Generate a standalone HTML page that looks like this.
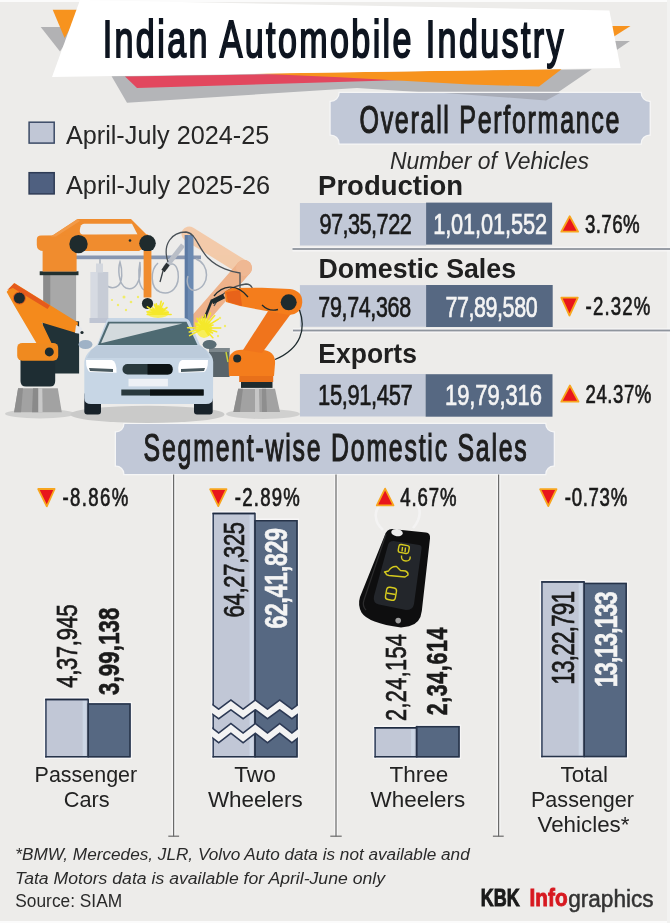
<!DOCTYPE html>
<html><head><meta charset="utf-8"><title>Indian Automobile Industry</title>
<style>
html,body{margin:0;padding:0;background:#edecea;}
svg{display:block;font-family:"Liberation Sans", Arial, sans-serif;}
</style></head><body>
<svg width="670" height="923" viewBox="0 0 670 923">
<!-- background -->
<rect x="0" y="0" width="670" height="923" fill="#edecea"/>
<rect x="0" y="0" width="670" height="2" fill="#fbfbfb"/>
<rect x="0" y="921" width="670" height="2" fill="#fbfbfb"/>
<rect x="667" y="0" width="3" height="923" fill="#f2f2f1"/>
<!-- title banner -->
<polygon points="40.7,26.9 76,26.9 60,51.5" fill="#b2b2b4"/>
<polygon points="52.7,9.7 81,9.7 64.6,38" fill="#f7931e"/>
<polygon points="604,26 630.5,26 614,36.5" fill="#f7931e"/>
<polygon points="606,41 630,41 616,50.5" fill="#b2b2b4"/>
<polygon points="111.6,76.3 591.8,69.3 546,100.4 357,88 127,102.7" fill="#b4b5b8"/>
<polygon points="125,76.6 430,71.8 430,79.2 137,88" fill="#e2475e"/>
<polygon points="255,73.4 561.5,69.3 539,86.5 470,84.5 340,77.3" fill="#f7931e"/>
<polygon points="80,0 609.4,10.4 620.6,68 52,77" fill="#ffffff"/>
<!-- Overall performance box -->
<path d="M339.7 93 L640.6 93 A9 9 0 0 0 649.6 102 L649.6 134.4 A9 9 0 0 0 640.6 143.4 L339.7 143.4 A9 9 0 0 0 330.7 134.4 L330.7 102 A9 9 0 0 0 339.7 93 Z" fill="#c1c8d7" stroke="#f6f6f6" stroke-width="2.5" paint-order="stroke"/>
<!-- gray shadow overlapping box -->
<polygon points="444,92.9 546,100.4 560,92.9" fill="#a9adb8"/>
<!-- legend -->
<rect x="29.1" y="122.2" width="25.1" height="20.9" fill="#c1c7d6" stroke="#3b4a66" stroke-width="1.5"/>
<rect x="29.1" y="172.7" width="25.1" height="21.2" fill="#4f6080" stroke="#2e3b55" stroke-width="1.5"/>
<!-- data rows -->
<rect x="299.9" y="203" width="126.2" height="42.5" fill="#c1c8d7"/>
<rect x="426.1" y="202.6" width="126" height="42" fill="#566882"/>
<rect x="299.9" y="285.1" width="126.2" height="41.7" fill="#c1c8d7"/>
<rect x="426.1" y="285" width="126.6" height="42" fill="#566882"/>
<rect x="299.9" y="374" width="125.7" height="42.5" fill="#c1c8d7"/>
<rect x="425.6" y="374.2" width="126.9" height="42.5" fill="#566882"/>
<!-- separators -->
<rect x="292.5" y="246.6" width="377.5" height="5" fill="#f6f6f6" opacity="0.8"/>
<rect x="292.5" y="248.1" width="377.5" height="1.8" fill="#8f959e"/>
<rect x="293" y="328.1" width="377" height="5" fill="#f6f6f6" opacity="0.8"/>
<rect x="293" y="329.6" width="377" height="1.8" fill="#8f959e"/>
<!-- key fob -->
<path d="M383 530 C372 520 374 506 386 502 M412 501 C422 505 422 518 413 528" fill="none" stroke="#f4f4f4" stroke-width="2.6" opacity="0.9"/>
<path d="M392 529 L426 532.5 Q430.5 533 430 538.5 L421.8 611 Q420.5 623.5 409 626.3 L401 627.5 Q368 623 361.5 612.5 Q357.5 605 360 597 L384.5 536 Q386.5 529 392 529 Z" fill="#0e0e0f"/>
<path d="M386 534 Q384 540 380 552 L364 600 Q362 606 366 610" fill="none" stroke="#3a3a3c" stroke-width="1.2" opacity="0.7"/>
<path d="M393.5 541 L419.5 545 Q422 545.5 421.5 549 L414 604 Q413 610 406 610 L379 604.5 Q372.5 603 374 596 L388 545 Q389 541 393.5 541 Z" fill="#23262b"/>
<ellipse cx="397" cy="532.6" rx="5.8" ry="3.6" fill="#ececec" transform="rotate(8 397 532.6)"/>
<circle cx="398.2" cy="620.6" r="2.8" fill="#a0a0a0"/>
<g fill="none" stroke="#d6cb1e" stroke-width="1.4" stroke-linejoin="round">
<rect x="398.5" y="545" width="10.5" height="8" rx="2.2" transform="rotate(10 403.7 549)"/>
<line x1="402.5" y1="547" x2="402" y2="551.5"/><line x1="405.5" y1="547.5" x2="405" y2="552"/>
<path d="M401.5 555.5 q-0.5 5.5 4.5 5.5 q4.5 0 4.2 -4.5"/>
<path d="M384.5 572 l4 -1 q3 -5 8 -4.5 l4 4 l5 0.5 q3 1.5 2.5 4 l-3 2 l-16 -1.5 q-3 -0.5 -3 -2 z"/>
<rect x="386" y="587.5" width="10" height="12.5" rx="3" transform="rotate(10 391 593.7)"/>
<line x1="386.5" y1="593" x2="395.5" y2="594.5"/>
</g>
<!-- triangles rows -->
<g fill="#e8151c" stroke="#f7a51e" stroke-width="1.8" stroke-linejoin="round">
<polygon points="569.7,216.2 578.1,231.7 561.3,231.7"/>
<polygon points="561.3,297.7 577.8,297.7 569.5,315.5"/>
<polygon points="569.9,385.5 578.5,401.7 561.3,401.7"/>
<polygon points="38.2,489 54.6,489 46.8,506.3"/>
<polygon points="210.1,489.2 226.5,489.2 218.3,506.1"/>
<polygon points="385.1,488.6 393.5,505.4 376.8,505.4"/>
<polygon points="540.1,489.2 556.5,489.2 548.3,506"/>
</g>
<!-- segment box -->
<path d="M124.5 424 L545.2 424 A8.5 8.5 0 0 0 553.7 432.5 L553.7 465.6 A8.5 8.5 0 0 0 545.2 474.1 L124.5 474.1 A8.5 8.5 0 0 0 116 465.6 L116 432.5 A8.5 8.5 0 0 0 124.5 424 Z" fill="#c1c8d7" stroke="#f6f6f6" stroke-width="2.5" paint-order="stroke"/>
<!-- dividers -->
<g stroke="#f7f7f7" stroke-width="4" opacity="0.9">
<line x1="173.6" y1="475.5" x2="173.6" y2="836"/>
<line x1="336" y1="475.5" x2="336" y2="836"/>
<line x1="498.6" y1="475.5" x2="498.6" y2="836"/>
</g>
<g stroke="#6a6a6a" stroke-width="1.2">
<line x1="173.6" y1="474.5" x2="173.6" y2="836.5"/>
<line x1="168.3" y1="836.2" x2="179.1" y2="836.2"/>
<line x1="336" y1="474.5" x2="336" y2="836.5"/>
<line x1="330.3" y1="836.2" x2="341.7" y2="836.2"/>
<line x1="498.6" y1="474.5" x2="498.6" y2="836.5"/>
<line x1="492.9" y1="836.2" x2="503.7" y2="836.2"/>
</g>
<!-- bars -->
<path d="M43.7 758.9 L43.7 697.3 L89.7 697.3 L89.7 701.8 L132.2 701.8 L132.2 758.9 Z" fill="#f8f8f8" opacity="0.85"/>
<rect x="45.2" y="698.8" width="43.0" height="58.60000000000002" fill="#c1c7d6"/>
<rect x="82.7" y="700.3" width="3.5" height="55.60000000000002" fill="#ccd6e5"/>
<rect x="88.2" y="703.3" width="42.499999999999986" height="54.10000000000002" fill="#566882"/>
<path d="M45.95 757.4 L45.95 699.55 L88.2 699.55" fill="none" stroke="#34425c" stroke-width="1.5"/>
<path d="M45.2 699.5 L88.2 699.5" fill="none" stroke="#1f2b40" stroke-width="1.4"/>
<line x1="88.2" y1="698.8" x2="88.2" y2="757.4" stroke="#263349" stroke-width="1.5"/>
<path d="M88.2 757.4 L88.2 704.05 L129.95 704.05 L129.95 756.65 L45.2 756.65" fill="none" stroke="#263349" stroke-width="1.5"/>
<path d="M211.0 759.0 L211.0 511.29999999999995 L256.5 511.29999999999995 L256.5 518.5 L299.2 518.5 L299.2 759.0 Z" fill="#f8f8f8" opacity="0.85"/>
<rect x="212.5" y="512.8" width="42.5" height="244.70000000000005" fill="#c1c7d6"/>
<rect x="249.5" y="514.3" width="3.5" height="241.70000000000005" fill="#ccd6e5"/>
<rect x="255.0" y="520.0" width="42.69999999999999" height="237.5" fill="#566882"/>
<path d="M213.25 757.5 L213.25 513.55 L255.0 513.55" fill="none" stroke="#34425c" stroke-width="1.5"/>
<path d="M212.5 513.5 L255.0 513.5" fill="none" stroke="#1f2b40" stroke-width="1.4"/>
<line x1="255.0" y1="512.8" x2="255.0" y2="757.5" stroke="#263349" stroke-width="1.5"/>
<path d="M255.0 757.5 L255.0 520.75 L296.95 520.75 L296.95 756.75 L212.5 756.75" fill="none" stroke="#263349" stroke-width="1.5"/>
<path d="M372.9 759.0 L372.9 725.6 L418.1 725.6 L418.1 724.4 L461.2 724.4 L461.2 759.0 Z" fill="#f8f8f8" opacity="0.85"/>
<rect x="374.4" y="727.1" width="42.200000000000045" height="30.399999999999977" fill="#c1c7d6"/>
<rect x="411.1" y="728.6" width="3.5" height="27.399999999999977" fill="#ccd6e5"/>
<rect x="416.6" y="725.9" width="43.099999999999966" height="31.600000000000023" fill="#566882"/>
<path d="M375.15 757.5 L375.15 727.85 L416.6 727.85" fill="none" stroke="#34425c" stroke-width="1.5"/>
<path d="M374.4 727.8000000000001 L416.6 727.8000000000001" fill="none" stroke="#1f2b40" stroke-width="1.4"/>
<line x1="416.6" y1="725.9" x2="416.6" y2="757.5" stroke="#263349" stroke-width="1.5"/>
<path d="M416.6 757.5 L416.6 726.65 L458.95 726.65 L458.95 756.75 L374.4 756.75" fill="none" stroke="#263349" stroke-width="1.5"/>
<path d="M539.7 758.7 L539.7 579.7 L585.7 579.7 L585.7 581.3 L628.4 581.3 L628.4 758.7 Z" fill="#f8f8f8" opacity="0.85"/>
<rect x="541.2" y="581.2" width="43.0" height="176.0" fill="#c1c7d6"/>
<rect x="578.7" y="582.7" width="3.5" height="173.0" fill="#ccd6e5"/>
<rect x="584.2" y="582.8" width="42.69999999999993" height="174.4000000000001" fill="#566882"/>
<path d="M541.95 757.2 L541.95 581.95 L584.2 581.95" fill="none" stroke="#34425c" stroke-width="1.5"/>
<path d="M541.2 581.9000000000001 L584.2 581.9000000000001" fill="none" stroke="#1f2b40" stroke-width="1.4"/>
<line x1="584.2" y1="581.2" x2="584.2" y2="757.2" stroke="#263349" stroke-width="1.5"/>
<path d="M584.2 757.2 L584.2 583.55 L626.15 583.55 L626.15 756.45 L541.2 756.45" fill="none" stroke="#263349" stroke-width="1.5"/>
<!-- zigzag breaks -->
<defs><clipPath id="twclip"><rect x="212.4" y="690" width="85.4" height="60"/></clipPath><clipPath id="twclip2"><rect x="210.6" y="690" width="89.2" height="60"/></clipPath></defs>
<g clip-path="url(#twclip)" fill="none" stroke="#2d3a55" stroke-width="9.3" stroke-linejoin="miter">
<polyline points="206.5,704.9 218.7,714.0 230.9,704.9 243.1,714.0 255.3,704.9 267.5,714.0 279.7,704.9 291.9,714.0 304.1,704.9"/>
<polyline points="206.5,728.4 218.7,737.9 230.9,728.4 243.1,737.9 255.3,728.4 267.5,737.9 279.7,728.4 291.9,737.9 304.1,728.4"/>
</g>
<g clip-path="url(#twclip2)" fill="none" stroke="#f3f3f3" stroke-width="6.2" stroke-linejoin="miter">
<polyline points="206.5,704.9 218.7,714.0 230.9,704.9 243.1,714.0 255.3,704.9 267.5,714.0 279.7,704.9 291.9,714.0 304.1,704.9"/>
<polyline points="206.5,728.4 218.7,737.9 230.9,728.4 243.1,737.9 255.3,728.4 267.5,737.9 279.7,728.4 291.9,737.9 304.1,728.4"/>
</g>

<g id="illus">
<!-- faded back robot (peach) -->
<g opacity="0.9" fill="none" stroke-linecap="round" stroke-linejoin="round">
<path d="M189 234 L244 268" stroke="#f3c7a3" stroke-width="15"/>
<path d="M244 268 L197 322" stroke="#efac80" stroke-width="16"/>
<circle cx="244" cy="268" r="8" fill="#f0b38a" stroke="none"/>
</g>
<!-- rail & post -->
<rect x="56" y="255.5" width="145" height="3.7" fill="#8796b0"/>
<rect x="184.8" y="235" width="8.7" height="100" fill="#6b8ab2"/>
<rect x="184.8" y="235" width="3" height="100" fill="#5c7aa3"/>
<!-- hanging cables -->
<g fill="none" stroke="#aab2be" stroke-width="1.5">
<path d="M100 259 L100 266 M100 270 C100 282 108 290 116 287 C124 284 122 268 120 262 C118 268 118 284 126 288 C134 291 142 284 140 262 C138 272 138 286 144 290"/>
<path d="M158 263 C150 270 150 288 160 292 C172 296 180 286 178 272 C176 262 170 262 166 268"/>
<path d="M196 259 C210 264 210 286 196 290 C188 292 186 282 188 276"/>
</g>
<!-- cylinder -->
<rect x="90.7" y="272" width="17.6" height="47" fill="#c7ccd6"/><rect x="89.5" y="318" width="20" height="5" fill="#bfc5d3"/>
<rect x="90.7" y="272" width="7" height="46" fill="#d6dae2"/>
<rect x="96" y="263.5" width="7" height="9" fill="#d3d7de"/>
<!-- back tool -->
<path d="M165 268 L183 245" stroke="#b9bec7" stroke-width="5" fill="none"/>
<path d="M163 271 L168 264" stroke="#2a3033" stroke-width="4" fill="none"/>
<path d="M163 271 L160 282" stroke="#3b4145" stroke-width="1.3" fill="none"/>
<g fill="none" stroke="#4a5157" stroke-width="1.3">
<path d="M168 262 C162 244 172 232 186 232 C196 233 198 248 208 258 C218 268 232 272 240 273 L240 290"/>
<path d="M214 306 C222 292 232 286 246 284 C252 284 254 290 253 296"/>
</g>
<!-- back-center robot -->
<rect x="43.3" y="275" width="32.8" height="50" fill="#a8a8a8"/>
<rect x="43.3" y="275" width="7" height="50" fill="#8b8b8b"/>
<rect x="39.7" y="271.3" width="38.8" height="3.9" fill="#22302f"/>
<rect x="42.6" y="244" width="34" height="27.5" fill="#f08c2e"/>
<polygon points="51,236.4 77.6,219 131,219 146.5,234.4 150,246 82,246" fill="#f08c2e"/>
<path d="M84 223.7 L132 223.7 L137.5 234.4 L82.5 234.4 Q79.5 234.4 79.8 230 Q80.5 223.7 84 223.7 Z" fill="#edecea"/>
<path d="M41 235.4 L148 234.4 L152 243 L139 251 L44 251 Q36.8 251 36.8 245 L36.8 239.5 Q36.8 235.4 41 235.4 Z" fill="#f08c2e"/>
<polygon points="51,236.4 77.6,219 80,221 56,236.4" fill="#f29a48"/>
<circle cx="78.5" cy="244.1" r="9.2" fill="#1f2b2d"/>
<circle cx="147.5" cy="243.3" r="8.3" fill="#1f2b2d"/>
<circle cx="130" cy="240.5" r="1.3" fill="#1f2b2d"/>
<rect x="143.6" y="251" width="7.8" height="46.5" fill="#f08c2e"/>
<circle cx="147.5" cy="303.5" r="5.6" fill="#1f2b2d"/>
<!-- dark panel behind left robot -->
<rect x="42.5" y="321.3" width="36.6" height="52.2" fill="#213237"/>
<!-- machinery box right -->
<rect x="209" y="348" width="20.5" height="29" fill="#59646a"/>
<rect x="209" y="348" width="20.5" height="4" fill="#7d878c"/>
<path d="M226 352 L228 362" stroke="#c8d23a" stroke-width="1.5"/>
<!-- ground shadows -->
<ellipse cx="40" cy="413.8" rx="35" ry="4.6" fill="#d0d0cf"/>
<ellipse cx="147.5" cy="414.4" rx="77" ry="8.6" fill="#cacac9"/>
<ellipse cx="263" cy="414" rx="37" ry="5" fill="#d0d0cf"/>
<!-- left robot -->
<polygon points="18.1,388.3 57.8,388.3 61.8,412.3 14.1,412.3" fill="#a2a2a2"/>
<polygon points="18.1,388.3 23,388.3 21,412.3 14.1,412.3" fill="#8e8e8e"/>
<polygon points="33,388.3 38.3,388.3 38.3,412.3 32,412.3" fill="#8a8a8a"/>
<polygon points="38.3,388.3 42.3,388.3 42.6,412.3 38.3,412.3" fill="#c9c9c9"/>
<path d="M20.5 360 L55.2 360 L55.2 381 Q55.2 386.5 50 386.5 L26 386.5 Q20.5 386.5 20.5 381 Z" fill="#1e2d33"/>
<rect x="17.2" y="342.9" width="41" height="17.9" rx="5" fill="#f08a1f"/>
<polygon points="7.5,292 14.4,284 77.2,323 75.8,332 40.3,321.3 50.7,343 37.3,343 14.9,305" fill="#f48a1c" stroke="#f48a1c" stroke-width="1.5" stroke-linejoin="round"/>
<polygon points="7.2,290 14.2,283.2 50,305.5 47.5,309 13,288" fill="#e55a1c"/>
<circle cx="19.4" cy="298.1" r="6" fill="#1e2b2e"/>
<circle cx="19.4" cy="298.1" r="6" fill="none" stroke="#e8601d" stroke-width="1"/>
<circle cx="49.3" cy="351.9" r="4.5" fill="#1e2b2e"/>
<polygon points="76,325 82,328 81,334 75,333" fill="#e6e8ec"/><circle cx="82" cy="332.5" r="1.6" fill="#1e2b2e"/>
<!-- right robot -->
<polygon points="238.2,388.7 275,388.7 280,412 233.4,412" fill="#a2a2a2"/>
<polygon points="238.2,388.7 243,388.7 240,412 233.4,412" fill="#8c8c8c"/>
<polygon points="255,388.7 259,388.7 259.5,412 255,412" fill="#c6c6c6"/>
<polygon points="262,388.7 266,388.7 267,412 262,412" fill="#8e8e8e"/>
<rect x="241" y="381.9" width="31.5" height="6" fill="#1e2b2e"/>
<rect x="239.2" y="375.5" width="34" height="6.5" fill="#e8701a"/>
<path d="M228.5 362 Q229 350 242 349.8 L262 349.8 Q276 351 275 364 L274 376 L229 376 Z" fill="#f47d1c"/>
<polygon points="272,305 293,311 262,353 243,350" fill="#f0741c"/>
<path d="M224.6 291.6 L232 288 L262 287.8 L290 289 Q303 291 302.2 303 Q301 314 289 315 L272 312 L240 306 L226 302 Z" fill="#f47d1c"/>
<polygon points="226,292 240,290 242,306 228,302" fill="#e8631a"/>
<circle cx="288.7" cy="302.3" r="8" fill="#1e2b2e"/>
<circle cx="237.2" cy="358.6" r="4" fill="#1e2b2e"/>
<path d="M262 305 Q269 312 278 309.5" fill="none" stroke="#1e2b2e" stroke-width="1.3"/>
<path d="M299.5 310 C306 328 302 348 275 359.5" fill="none" stroke="#1e2b2e" stroke-width="1.3"/>
<path d="M248 297 C236 282 222 286 214 296" fill="none" stroke="#1e2b2e" stroke-width="1.3"/>
<!-- torch -->
<path d="M224 296 L212 302" stroke="#1e2b2e" stroke-width="5"/>
<path d="M212 300 L204 320" stroke="#1e2b2e" stroke-width="2.5"/>
<!-- car -->
<rect x="84.3" y="392" width="16.7" height="22.6" rx="3" fill="#18222a"/>
<rect x="194" y="392" width="18.7" height="22.6" rx="3" fill="#18222a"/>
<path d="M110 318 L183 318 Q188 318 190 322 L200 345 L206 350 Q213 355 213.2 362 L213 398 Q213 404 206 404 L91 404 Q84.3 404 84.3 398 L84.3 362 Q85 355 91 350 L97 345 L106 322 Q107 318 110 318 Z" fill="#c7d6e5"/>
<path d="M108 321.8 L186.5 321.8 L197.5 345 L98 345 Z" fill="#4e6a72"/>
<path d="M109.5 323.6 L182.5 323.6 L101 343.2 Z" fill="#d3dadd"/>
<path d="M91 350 L97 345.4 L200 345.4 L206 350 L210 358 L87 358 Z" fill="#bccbdb"/>
<ellipse cx="85.5" cy="344.5" rx="7" ry="4.5" fill="#9fb2c6"/>
<ellipse cx="209.6" cy="344.5" rx="7" ry="4.5" fill="#5a6d75"/>
<path d="M86 360 L112 360 Q117 362 116.5 372.8 L90 372 Q86 370 86 360 Z" fill="#ffffff"/>
<path d="M89 368 L113 369 L113 372 L90 371 Z" fill="#4a5a60"/>
<path d="M208 360 L182 360 Q177 362 178.6 372.8 L204 372 Q208 370 208 360 Z" fill="#ffffff"/>
<path d="M205 368 L181 369 L181 372 L204 371 Z" fill="#4a5a60"/>
<rect x="122.5" y="364" width="50.1" height="10.5" rx="5" fill="#2a3a3e"/>
<path d="M147.5 364 L167.6 364 Q172.6 364 172.6 369.2 Q172.6 374.5 167.6 374.5 L147.5 374.5 Z" fill="#0c1214"/>
<rect x="128.5" y="378.8" width="39.4" height="7.6" fill="#eef1f6"/>
<rect x="121.3" y="389.5" width="82.3" height="6" fill="#2a3a3e"/>
<rect x="150" y="389.5" width="53.6" height="6" fill="#0c1214"/>
<!-- sparks -->
<g>
<ellipse cx="158" cy="313" rx="11" ry="5" fill="#f7ee5a"/>
<path d="M158.0 314.0L147.2 314.5 M158.0 314.0L147.0 311.8 M158.0 314.0L151.4 310.6 M158.0 314.0L147.3 306.9 M158.0 314.0L152.3 307.5 M158.0 314.0L154.4 304.4 M158.0 314.0L156.3 303.8 M158.0 314.0L158.2 305.9 M158.0 314.0L161.2 301.3 M158.0 314.0L163.3 303.0 M158.0 314.0L162.8 308.3 M158.0 314.0L167.0 307.5 M158.0 314.0L164.4 310.6 M158.0 314.0L168.2 312.4 M158.0 314.0L171.1 314.5" stroke="#f5e82a" stroke-width="1.6" stroke-linecap="round" fill="none"/>
<ellipse cx="204" cy="328" rx="8" ry="10" fill="#f7ee5a"/>
<path d="M204.0 328.0L189.6 335.6 M204.0 328.0L189.3 332.0 M204.0 328.0L187.6 327.7 M204.0 328.0L195.7 324.8 M204.0 328.0L195.4 323.0 M204.0 328.0L197.0 318.3 M204.0 328.0L199.7 318.2 M204.0 328.0L202.3 316.7 M204.0 328.0L205.3 314.8 M204.0 328.0L210.5 313.2 M204.0 328.0L214.7 315.6 M204.0 328.0L218.4 319.1 M204.0 328.0L213.0 325.1 M204.0 328.0L220.7 328.0 M204.0 328.0L216.6 331.7 M204.0 328.0L212.5 333.0 M204.0 328.0L212.9 337.7 M204.0 328.0L208.6 335.3" stroke="#f5e82a" stroke-width="1.6" stroke-linecap="round" fill="none"/>
</g>
<g fill="#f0ec6a">
<circle cx="124" cy="297" r="1.5"/><circle cx="131" cy="302" r="1.3"/><circle cx="118" cy="305" r="1.2"/>
<circle cx="138" cy="297" r="1.2"/><circle cx="126" cy="310" r="1.2"/><circle cx="112" cy="300" r="1.1"/>
<circle cx="220" cy="318" r="1.2"/><circle cx="225" cy="326" r="1.2"/><circle cx="218" cy="336" r="1.2"/>
</g>
</g>

<g id="texts">
<text transform="translate(102.7 57.35) scale(0.66 1)" font-size="51.59" font-weight="normal" fill="#0e1520" stroke="#0e1520" stroke-width="1.9" textLength="698.18">Indian Automobile Industry</text>
<text x="65.9" y="143.6" font-size="25.51" font-weight="normal" fill="#262626" textLength="203.4" lengthAdjust="spacingAndGlyphs">April-July 2024-25</text>
<text x="65.9" y="193.6" font-size="25.51" font-weight="normal" fill="#262626" textLength="204.2" lengthAdjust="spacingAndGlyphs">April-July 2025-26</text>
<text transform="translate(359.5 132.6) scale(0.64 1)" font-size="39.13" font-weight="normal" fill="#1e1e1e" stroke="#1e1e1e" stroke-width="1.2" textLength="406.25">Overall Performance</text>
<text x="389.9" y="168.9" font-size="23.91" font-weight="normal" font-style="italic" fill="#2a2a2a" textLength="199.2" lengthAdjust="spacingAndGlyphs">Number of Vehicles</text>
<text x="318.1" y="195.4" font-size="27.1" font-weight="bold" fill="#202020" textLength="145.05" lengthAdjust="spacingAndGlyphs">Production</text>
<text x="318.4" y="277.6" font-size="27.1" font-weight="bold" fill="#202020" textLength="197.62" lengthAdjust="spacingAndGlyphs">Domestic Sales</text>
<text x="318.3" y="363.4" font-size="27.68" font-weight="bold" fill="#202020" textLength="98.63" lengthAdjust="spacingAndGlyphs">Exports</text>
<text transform="translate(319.4 234.35) scale(0.74 1)" font-size="29.43" font-weight="normal" fill="#1a1a1a" stroke="#1a1a1a" stroke-width="0.7" textLength="124.86">97,35,722</text>
<text transform="translate(433.2 234.35) scale(0.74 1)" font-size="29.43" font-weight="normal" fill="#f4f4f4" stroke="#f4f4f4" stroke-width="0.7" textLength="153.78">1,01,01,552</text>
<text transform="translate(584.9 232.85) scale(0.74 1)" font-size="25.29" font-weight="normal" fill="#1a1a1a" stroke="#1a1a1a" stroke-width="0.7" textLength="74.05">3.76%</text>
<text transform="translate(318.3 316.65) scale(0.74 1)" font-size="29.0" font-weight="normal" fill="#1a1a1a" stroke="#1a1a1a" stroke-width="0.7" textLength="125.41">79,74,368</text>
<text transform="translate(445.4 316.65) scale(0.74 1)" font-size="29.0" font-weight="normal" fill="#f4f4f4" stroke="#f4f4f4" stroke-width="0.7" textLength="124.59">77,89,580</text>
<text transform="translate(585.6 315.25) scale(0.74 1)" font-size="25.14" font-weight="normal" fill="#1a1a1a" stroke="#1a1a1a" stroke-width="0.7" textLength="87.3">-2.32%</text>
<text transform="translate(318.1 404.55) scale(0.74 1)" font-size="29.71" font-weight="normal" fill="#1a1a1a" stroke="#1a1a1a" stroke-width="0.7" textLength="127.84">15,91,457</text>
<text transform="translate(445.1 404.55) scale(0.74 1)" font-size="29.71" font-weight="normal" fill="#f4f4f4" stroke="#f4f4f4" stroke-width="0.7" textLength="130.81">19,79,316</text>
<text transform="translate(585.6 402.55) scale(0.74 1)" font-size="25.14" font-weight="normal" fill="#1a1a1a" stroke="#1a1a1a" stroke-width="0.7" textLength="88.92">24.37%</text>
<text transform="translate(143.6 460.8) scale(0.64 1)" font-size="38.84" font-weight="normal" fill="#1e1e1e" stroke="#1e1e1e" stroke-width="1.2" textLength="598.75">Segment-wise Domestic Sales</text>
<text transform="translate(62.5 506.25) scale(0.74 1)" font-size="25.14" font-weight="normal" fill="#1a1a1a" stroke="#1a1a1a" stroke-width="0.7" textLength="88.92">-8.86%</text>
<text transform="translate(234.8 506.25) scale(0.74 1)" font-size="25.14" font-weight="normal" fill="#1a1a1a" stroke="#1a1a1a" stroke-width="0.7" textLength="87.84">-2.89%</text>
<text transform="translate(400.3 506.25) scale(0.74 1)" font-size="25.14" font-weight="normal" fill="#1a1a1a" stroke="#1a1a1a" stroke-width="0.7" textLength="75.95">4.67%</text>
<text transform="translate(564.8 506.25) scale(0.74 1)" font-size="25.14" font-weight="normal" fill="#1a1a1a" stroke="#1a1a1a" stroke-width="0.7" textLength="84.32">-0.73%</text>
<text x="34.6" y="781.5" font-size="22.46" font-weight="normal" fill="#222222" textLength="102.61" lengthAdjust="spacingAndGlyphs">Passenger</text>
<text x="63.81" y="806.9" font-size="22.61" font-weight="normal" fill="#222222" textLength="45.85" lengthAdjust="spacingAndGlyphs">Cars</text>
<text x="234.2" y="781.5" font-size="22.46" font-weight="normal" fill="#222222" textLength="41.81" lengthAdjust="spacingAndGlyphs">Two</text>
<text x="207.9" y="806.9" font-size="22.61" font-weight="normal" fill="#222222" textLength="94.8" lengthAdjust="spacingAndGlyphs">Wheelers</text>
<text x="389.5" y="781.5" font-size="22.46" font-weight="normal" fill="#222222" textLength="58.82" lengthAdjust="spacingAndGlyphs">Three</text>
<text x="370.5" y="806.9" font-size="22.61" font-weight="normal" fill="#222222" textLength="94.8" lengthAdjust="spacingAndGlyphs">Wheelers</text>
<text x="560.4" y="781.5" font-size="22.46" font-weight="normal" fill="#222222" textLength="47.61" lengthAdjust="spacingAndGlyphs">Total</text>
<text x="531.0" y="806.9" font-size="22.61" font-weight="normal" fill="#222222" textLength="103.01" lengthAdjust="spacingAndGlyphs">Passenger</text>
<text x="537.5" y="832.2" font-size="22.61" font-weight="normal" fill="#222222" textLength="92.01" lengthAdjust="spacingAndGlyphs">Vehicles*</text>
<text x="15.3" y="859.5" font-size="16.52" font-weight="normal" font-style="italic" fill="#2a2a2a" textLength="454.4" lengthAdjust="spacingAndGlyphs">*BMW, Mercedes, JLR, Volvo Auto data is not available and</text>
<text x="15.0" y="884.2" font-size="16.52" font-weight="normal" font-style="italic" fill="#2a2a2a" textLength="370.0" lengthAdjust="spacingAndGlyphs">Tata Motors data is available for April-June only</text>
<text x="15.3" y="906.6" font-size="18.7" font-weight="normal" fill="#2a2a2a" textLength="106.84" lengthAdjust="spacingAndGlyphs">Source: SIAM</text>
<text x="480.8" y="906.4" font-size="23.19" font-weight="bold" fill="#1a1a1a" stroke="#1a1a1a" stroke-width="1.0" textLength="38.81" lengthAdjust="spacingAndGlyphs">KBK</text>
<text x="529.6" y="906.45" font-size="23.33" font-weight="bold" fill="#d71920" stroke="#d71920" stroke-width="0.9" textLength="38.0" lengthAdjust="spacingAndGlyphs">Info</text>
<text x="568.2" y="906.65" font-size="23.91" font-weight="normal" fill="#333333" stroke="#333333" stroke-width="0.5" textLength="85.4" lengthAdjust="spacingAndGlyphs">graphics</text>
<text transform="translate(77.25 687.8) rotate(-90) scale(0.74 1)" font-size="29.71" font-weight="normal" fill="#1a1a1a" stroke="#1a1a1a" stroke-width="0.7" textLength="112.97">4,37,945</text>
<text transform="translate(119.1 695.0) rotate(-90) scale(0.74 1)" font-size="29.86" font-weight="bold" fill="#1a1a1a" stroke="#1a1a1a" stroke-width="0.6" textLength="118.11">3,99,138</text>
<text transform="translate(244.25 617.5) rotate(-90) scale(0.74 1)" font-size="29.71" font-weight="normal" fill="#1a1a1a" stroke="#1a1a1a" stroke-width="0.7" textLength="129.19">64,27,325</text>
<text transform="translate(286.7 628.6) rotate(-90) scale(0.74 1)" font-size="31.0" font-weight="bold" fill="#f4f4f4" stroke="#f4f4f4" stroke-width="0.6" textLength="135.95">62,41,829</text>
<text transform="translate(406.45 720.9) rotate(-90) scale(0.74 1)" font-size="29.29" font-weight="normal" fill="#1a1a1a" stroke="#1a1a1a" stroke-width="0.7" textLength="117.3">2,24,154</text>
<text transform="translate(447.2 715.3) rotate(-90) scale(0.74 1)" font-size="28.86" font-weight="bold" fill="#1a1a1a" stroke="#1a1a1a" stroke-width="0.6" textLength="118.38">2,34,614</text>
<text transform="translate(573.95 684.8) rotate(-90) scale(0.74 1)" font-size="30.57" font-weight="normal" fill="#1a1a1a" stroke="#1a1a1a" stroke-width="0.7" textLength="127.03">13,22,791</text>
<text transform="translate(616.7 687.3) rotate(-90) scale(0.74 1)" font-size="32.0" font-weight="bold" fill="#f4f4f4" stroke="#f4f4f4" stroke-width="0.6" textLength="129.73">13,13,133</text>
</g>
</svg>
</body></html>
